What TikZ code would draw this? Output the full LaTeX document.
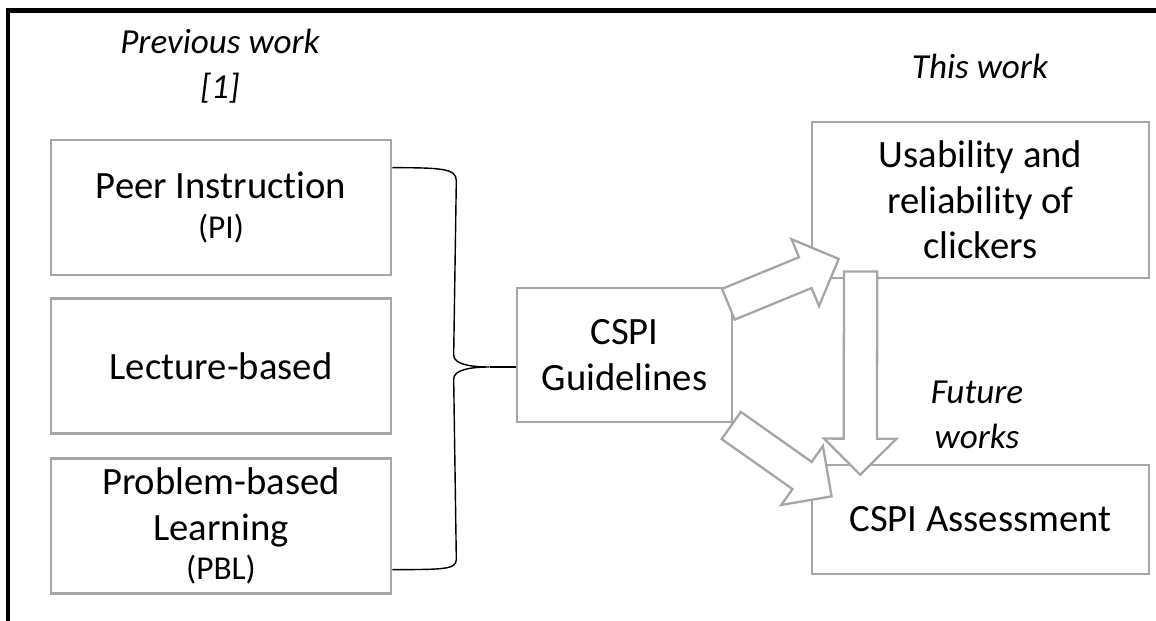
\documentclass[tikz,border=0pt]{standalone}
\usepackage{fontspec}
\setmainfont{Carlito}[Ligatures=NoCommon]
\usetikzlibrary{positioning,calc,shapes.arrows}
\definecolor{boxgray}{RGB}{166,166,166}
\tikzset{
  box/.style={draw=boxgray,line width=1.5pt,fill=white,align=center,inner sep=0pt,
    font=\fontsize{22}{26}\selectfont},
  note/.style={align=center,font=\fontsize{20}{25.5}\selectfont\itshape},
  fat/.style={single arrow,draw=boxgray,line width=1.3pt,fill=white,inner xsep=0pt,inner ysep=3.1mm,
    minimum width=14mm,single arrow head extend=3.9mm},
  brace/.style={line width=0.8pt}
}
\newcommand{\smalltxt}[1]{{\fontsize{19}{25}\selectfont #1}}
\begin{document}
\begin{tikzpicture}[x=2mm,y=-2mm]
\useasboundingbox (0,0) rectangle (115.6,62.1);
\draw[line width=2.3pt] (0.8,62.1) -- (0.8,1.05) -- (115.6,1.05);
% previous work
\node[note] (prev) at (22.0,6.6) {Previous work\\{[1]}};
\node[box,minimum width=68mm,minimum height=27mm] (pi) at (22.1,20.75) {Peer Instruction\\[-1.2mm]\smalltxt{(PI)}};
\node[box,minimum width=68mm,minimum height=27mm,below=4.2mm of pi] (lect) {Lecture-based};
\node[box,minimum width=68mm,minimum height=27mm,below=4.4mm of lect] (pbl) {Problem-based\\Learning\\[-1.4mm]\smalltxt{(PBL)}};
\node[box,minimum width=43mm,minimum height=26.8mm] (guide) at (62.45,35.5) {CSPI\\Guidelines};
% this work
\node[note] (this) at (98.0,6.6) {This work};
\node[box,minimum width=67.4mm,minimum height=31.2mm] (usab) at (98.05,20.0) {Usability and\\reliability of\\clickers};
\node[note] (future) at (97.7,41.5) {Future\\works};
\node[box,minimum width=67.4mm,minimum height=21.8mm] (assess) at (98.05,51.95) {CSPI Assessment};
% brace
\coordinate (bt) at ($(pi.north east)+(0,2.9)$);
\coordinate (bb) at ($(pbl.south east)+(0,-2.5)$);
\coordinate (bm) at ($(guide.west)+(-2.6,1.2)$);
\draw[brace] (bt) .. controls +(5,0) and +(0,-1.2) .. ($(bt)+(6.4,1.3)$) -- ($(bm)+(-3.6,-1.2)$)
  .. controls +(0,0.9) and +(-2,0) .. (bm) .. controls +(-2,0) and +(0,-0.9) .. ($(bm)+(-3.6,1.2)$)
  -- ($(bb)+(6.4,-1.0)$) .. controls +(0,1.0) and +(5,0) .. (bb);
\draw[brace] (bm) -- ($(guide.west)+(0,1.2)$);
% block arrows
\coordinate (ua) at ($(guide.north east)+(-0.6,1.8)$);
\coordinate (ub) at ($(usab.south west)+(2.7,-2.0)$);
\coordinate (va) at ($(usab.south west)+(5.0,-0.9)$);
\coordinate (vb) at ($(assess.north west)+(4.95,1.0)$);
\coordinate (da) at ($(guide.south east)+(-0.3,0.15)$);
\coordinate (db) at ($(assess.north west)+(2.0,3.2)$);
\foreach \a/\b in {ua/ub,va/vb,da/db}
  \path let \p1=($(\b)-(\a)$), \n1={atan2(\y1,\x1)}, \n2={veclen(\x1,\y1)} in
    (\a) node[fat,anchor=tail,rotate=\n1,minimum height=\n2] {};
\end{tikzpicture}
\end{document}
